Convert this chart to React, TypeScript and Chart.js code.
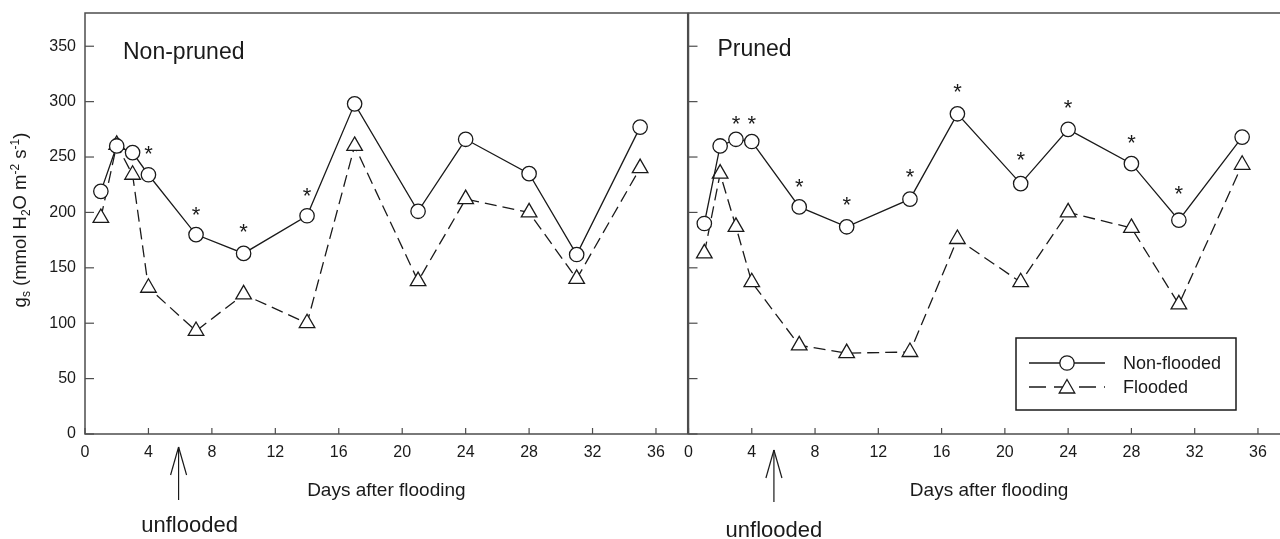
import React, { useEffect, useRef } from 'react';
import { Chart, registerables } from 'chart.js';
import { drawPoint } from 'chart.js/helpers';

Chart.register(...registerables);

// ---------- data ----------
const days = [1, 2, 3, 4, 7, 10, 14, 17, 21, 24, 28, 31, 35];
const nonPrunedNonFlooded = [219, 260, 254, 234, 180, 163, 197, 298, 201, 266, 235, 162, 277];
const nonPrunedFlooded = [195, 261, 234, 132, 93, 126, 100, 260, 138, 212, 200, 140, 240];
const prunedNonFlooded = [190, 260, 266, 264, 205, 187, 212, 289, 226, 275, 244, 193, 268];
const prunedFlooded = [163, 235, 187, 137, 80, 73, 74, 176, 137, 200, 186, 117, 243];

const sigDaysNonPruned = [4, 7, 10, 14];
const sigLevelNonPruned = [258, 203, 187, 220];
const sigDaysPruned = [3, 4, 7, 10, 14, 17, 21, 24, 28, 31];
const sigLevelPruned = [285, 285, 228, 212, 237, 314, 252, 299, 268, 222];

const xTicks = [0, 4, 8, 12, 16, 20, 24, 28, 32, 36];
const yTicks = [0, 50, 100, 150, 200, 250, 300, 350];
const xMax = 38;
const yMax = 380;

const panelTitles = ['Non-pruned', 'Pruned'];
const seriesNames = ['Non-flooded', 'Flooded'];
const xTitle = 'Days after flooding';
const arrowLabel = 'unflooded';
const unfloodedDay = [5.9, 5.4];

// ---------- style ----------
const FONT = '"Liberation Sans", Arial, Helvetica, sans-serif';
const INK = '#1a1a1a';
const FRAME = '#4d4d4d';

const layouts = [
  { canvasLeft: 0, axisWidth: 85, padRight: 12.3, titleDX: 38, titleBase: 59, arrowTip: 447, arrowLeg: 475, arrowBottom: 500, textDX: 11, textBase: 532 },
  { canvasLeft: 600, axisWidth: 88.5, padRight: 10.4, titleDX: 29, titleBase: 56, arrowTip: 450, arrowLeg: 478, arrowBottom: 502, textDX: 0, textBase: 537 },
];

function line(ctx: CanvasRenderingContext2D, x1: number, y1: number, x2: number, y2: number) {
  ctx.beginPath();
  ctx.moveTo(x1, y1);
  ctx.lineTo(x2, y2);
  ctx.stroke();
}

function makePlugin(panel: number) {
  const L = layouts[panel];
  const sigDays = panel === 0 ? sigDaysNonPruned : sigDaysPruned;
  const sigLevel = panel === 0 ? sigLevelNonPruned : sigLevelPruned;
  return {
    id: 'deco' + panel,
    beforeDatasetsDraw(chart: any) {
      const { ctx, chartArea: a, scales } = chart;
      ctx.save();
      ctx.strokeStyle = FRAME;
      ctx.lineWidth = 1.5;
      ctx.strokeRect(a.left, a.top, a.right - a.left, a.bottom - a.top);
      ctx.lineWidth = 1.2;
      yTicks.forEach((v) => {
        const y = scales.y.getPixelForValue(v);
        line(ctx, a.left, y, a.left + 9, y);
      });
      xTicks.forEach((v) => {
        const x = scales.x.getPixelForValue(v);
        line(ctx, x, a.bottom, x, a.bottom - 6);
      });
      ctx.restore();
    },
    afterDraw(chart: any) {
      const { ctx, chartArea: a, scales } = chart;
      ctx.save();
      ctx.fillStyle = INK;
      ctx.strokeStyle = INK;

      // significance asterisks
      ctx.font = `22px ${FONT}`;
      ctx.textAlign = 'center';
      ctx.textBaseline = 'alphabetic';
      sigDays.forEach((d, i) => {
        const x = scales.x.getPixelForValue(d);
        const y = scales.y.getPixelForValue(sigLevel[i]);
        ctx.fillText('*', x, y + 12.5);
      });

      // panel title
      ctx.textAlign = 'left';
      ctx.font = `23px ${FONT}`;
      ctx.fillText(panelTitles[panel], a.left + L.titleDX, L.titleBase);

      // x title
      ctx.textAlign = 'center';
      ctx.font = `19px ${FONT}`;
      ctx.fillText(xTitle, (a.left + a.right) / 2, 496);

      // unflooded arrow
      const ax = scales.x.getPixelForValue(unfloodedDay[panel]);
      ctx.lineWidth = 1.2;
      line(ctx, ax, L.arrowTip, ax, L.arrowBottom);
      line(ctx, ax, L.arrowTip, ax - 8, L.arrowLeg);
      line(ctx, ax, L.arrowTip, ax + 8, L.arrowLeg);
      ctx.font = `22px ${FONT}`;
      ctx.fillText(arrowLabel, ax + L.textDX, L.textBase);

      if (panel === 0) {
        // y-axis title with sub/superscripts
        const parts: [string, number][] = [
          ['g', 0], ['s', 1], [' (mmol H', 0], ['2', 1], ['O m', 0], ['-2', 2], [' s', 0], ['-1', 2], [')', 0],
        ];
        const big = `18.5px ${FONT}`;
        const small = `12px ${FONT}`;
        let total = 0;
        const widths = parts.map(([t, k]) => {
          ctx.font = k === 0 ? big : small;
          const w = ctx.measureText(t).width;
          total += w;
          return w;
        });
        ctx.translate(26, 220);
        ctx.rotate(-Math.PI / 2);
        ctx.textAlign = 'left';
        let x = -total / 2;
        parts.forEach(([t, k], i) => {
          ctx.font = k === 0 ? big : small;
          const dy = k === 1 ? 4 : k === 2 ? -7.5 : 0;
          ctx.fillText(t, x, dy);
          x += widths[i];
        });
      } else {
        // legend box
        const bx = 1016 - L.canvasLeft;
        const by = 338;
        ctx.strokeStyle = INK;
        ctx.lineWidth = 1.5;
        ctx.strokeRect(bx, by, 220, 72);
        const rows = [363, 387];
        const sx1 = bx + 13, sx2 = bx + 89, mx = bx + 51;
        ctx.lineWidth = 1.3;
        line(ctx, sx1, rows[0], sx2, rows[0]);
        ctx.fillStyle = '#ffffff';
        drawPoint(ctx, { pointStyle: 'circle', radius: 7.2, rotation: 0, borderWidth: 1.3 } as any, mx, rows[0]);
        ctx.setLineDash([17, 8]);
        line(ctx, sx1, rows[1], sx2, rows[1]);
        ctx.setLineDash([]);
        drawPoint(ctx, { pointStyle: 'triangle', radius: 9, rotation: 0, borderWidth: 1.3 } as any, mx, rows[1] + 1.5);
        ctx.fillStyle = INK;
        ctx.font = `18px ${FONT}`;
        ctx.textAlign = 'left';
        ctx.fillText(seriesNames[0], bx + 107, 369);
        ctx.fillText(seriesNames[1], bx + 107, 393);
      }
      ctx.restore();
    },
  };
}

function buildConfig(panel: number): any {
  const L = layouts[panel];
  const nf = panel === 0 ? nonPrunedNonFlooded : prunedNonFlooded;
  const fl = panel === 0 ? nonPrunedFlooded : prunedFlooded;
  const tickFont = { family: FONT, size: 16 };
  return {
    type: 'line',
    data: {
      datasets: [
        {
          label: seriesNames[0],
          data: days.map((d, i) => ({ x: d, y: nf[i] })),
          borderColor: INK,
          borderWidth: 1.3,
          pointStyle: 'circle',
          pointRadius: 7.2,
          pointBackgroundColor: '#ffffff',
          pointBorderColor: INK,
          pointBorderWidth: 1.3,
          tension: 0,
          fill: false,
        },
        {
          label: seriesNames[1],
          data: days.map((d, i) => ({ x: d, y: fl[i] })),
          borderColor: INK,
          borderWidth: 1.3,
          borderDash: [12, 6],
          pointStyle: 'triangle',
          pointRadius: 9,
          pointBackgroundColor: '#ffffff',
          pointBorderColor: INK,
          pointBorderWidth: 1.3,
          tension: 0,
          fill: false,
        },
      ],
    },
    options: {
      responsive: false,
      animation: false,
      devicePixelRatio: 1,
      events: [],
      layout: { padding: { top: 13, right: L.padRight, left: 0, bottom: 0 } },
      plugins: { legend: { display: false }, tooltip: { enabled: false }, title: { display: false } },
      scales: {
        x: {
          type: 'linear',
          min: 0,
          max: xMax,
          grid: { display: false, drawTicks: false, tickLength: 0 },
          border: { display: false },
          afterBuildTicks: (s: any) => {
            s.ticks = xTicks.map((v) => ({ value: v }));
          },
          afterFit: (s: any) => {
            s.height = 105;
            s.paddingLeft = 0;
            s.paddingRight = 0;
          },
          ticks: { padding: 9, font: tickFont, color: INK, autoSkip: false, maxRotation: 0 },
        },
        y: {
          type: 'linear',
          min: 0,
          max: yMax,
          grid: { display: false, drawTicks: false, tickLength: 0 },
          border: { display: false },
          afterBuildTicks: (s: any) => {
            s.ticks = yTicks.map((v) => ({ value: v }));
          },
          afterFit: (s: any) => {
            s.width = L.axisWidth;
            s.paddingTop = 0;
            s.paddingBottom = 0;
          },
          ticks: { display: panel === 0, padding: 9, font: tickFont, color: INK },
        },
      },
    },
    plugins: [makePlugin(panel)],
  };
}

export default function App() {
  const leftRef = useRef<HTMLCanvasElement>(null);
  const rightRef = useRef<HTMLCanvasElement>(null);
  useEffect(() => {
    const c1 = new Chart(leftRef.current as HTMLCanvasElement, buildConfig(0));
    const c2 = new Chart(rightRef.current as HTMLCanvasElement, buildConfig(1));
    return () => {
      c1.destroy();
      c2.destroy();
    };
  }, []);
  return (
    <div style={{ position: 'fixed', left: 0, top: 0, width: 1280, height: 539, overflow: 'hidden', background: '#ffffff' }}>
      <canvas ref={leftRef} width={700} height={539} style={{ position: 'absolute', left: layouts[0].canvasLeft, top: 0 }} />
      <canvas ref={rightRef} width={700} height={539} style={{ position: 'absolute', left: layouts[1].canvasLeft, top: 0 }} />
    </div>
  );
}
